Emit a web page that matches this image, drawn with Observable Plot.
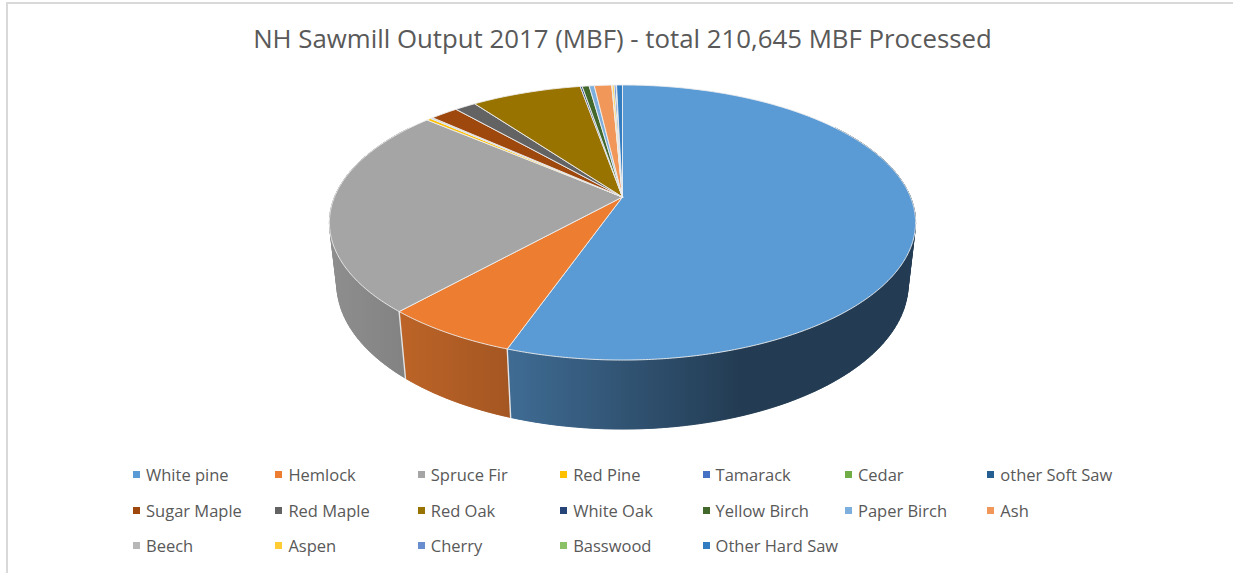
<!DOCTYPE html>
<html>
<head>
<meta charset="utf-8">
<script src="https://cdn.jsdelivr.net/npm/d3@7"></script>
<script src="https://cdn.jsdelivr.net/npm/@observablehq/plot@0.6"></script>
<style>
html,body{margin:0;padding:0;background:#fff;overflow:hidden}
#page{position:relative;width:1233px;height:573px;font-family:"Open Sans",sans-serif;color:#595959}
#frame{position:absolute;left:6px;top:2px;right:0;height:580px;border-left:2px solid #d9d9d9;border-top:2px solid #d9d9d9;box-sizing:border-box}
#title{position:absolute;left:0;top:20px;width:1245px;text-align:center;font-size:25.8px;line-height:36px;white-space:nowrap}
#chart{position:absolute;left:0;top:0}
#legend{position:absolute;left:133px;top:457px;display:grid;grid-template-columns:repeat(7,142.4px);grid-auto-rows:35.4px;font-size:16.5px}
.item{display:flex;align-items:center;white-space:nowrap}
.sw{width:7px;height:7px;margin-right:6px;flex:none}
</style>
</head>
<body>
<div id="page">
  <div id="frame"></div>
  <div id="title"></div>
  <div id="chart"></div>
  <div id="legend"></div>
</div>
<script>
const chartTitle = "NH Sawmill Output 2017 (MBF) - total 210,645 MBF Processed";
const species = ["White pine","Hemlock","Spruce Fir","Red Pine","Tamarack","Cedar","other Soft Saw",
  "Sugar Maple","Red Maple","Red Oak","White Oak","Yellow Birch","Paper Birch","Ash",
  "Beech","Aspen","Cherry","Basswood","Other Hard Saw"];
const output = [116600,13270,51820,630,100,60,170,3880,2950,15310,270,970,710,2420,60,270,270,60,825];
const colors = ["#5b9bd5","#ed7d31","#a5a5a5","#ffc000","#4472c4","#70ad47","#255e91",
  "#9e480e","#636363","#997300","#264478","#43682b","#7cafdd","#f1975a",
  "#b7b7b7","#ffcd33","#698ed0","#8cc168","#327dc2"];

// perspective of the tilted disc: depth gain along the view, depth gain along the thickness, thickness
const tilt = 0.1855, sink = 0.025, thickness = 0.467;
const project = (deg, h) => {
  const a = deg * Math.PI / 180, u = Math.sin(a), v = Math.cos(a);
  const w = 1 + tilt * v + sink * h;
  return {x: u / w, y: (v - thickness * h) / w};
};
const total = d3.sum(output);
let run = 0;
const slices = species.map((name, i) => {
  const a0 = run / total * 360; run += output[i];
  return {name, index: i, fill: colors[i], a0, a1: run / total * 360};
});
const steps = (a0, a1, size) => {
  const n = Math.max(1, Math.ceil((a1 - a0) / size));
  return d3.range(n + 1).map(i => a0 + (a1 - a0) * i / n);
};

// top face
const topFace = slices.flatMap(s => [
  {id: s.name, fill: s.fill, x: 0, y: 0},
  ...steps(s.a0, s.a1, 0.5).map(d => ({id: s.name, fill: s.fill, ...project(d, 0)})),
  {id: s.name, fill: s.fill, x: 0, y: 0}
]);

// side wall: a base band per slice, plus quads that complete the silhouette, all sharing one horizontal gradient per slice
const shade = d3.scaleLinear().domain([-1.01, -0.75, -0.39, 0.41, 1.01]).range([0.86, 0.79, 0.69, 0.39, 0.39]);
const bands = [];
const strips = [];
slices.forEach(s => {
  const lo = Math.max(s.a0, 55), hi = Math.min(s.a1, 305);
  if (hi <= lo) return;
  const fill = `url(#wall${s.index})`;
  const ang = steps(lo, hi, 1.5);
  [...ang.map(d => project(d, 0)), ...ang.slice().reverse().map(d => project(d, 1))]
    .forEach(pt => bands.push({id: s.name, fill, ...pt}));
  d3.pairs(ang).forEach(([p, q], i) => {
    const id = s.name + i, tp = project(p, 0);
    [tp, project(q, 0), project(q, 1), project(p, 1), tp].forEach(pt => strips.push({id, fill, ...pt}));
  });
});

// white seams on the wall where visible slices meet
const seams = slices.filter(s => s.a1 > 90 && s.a1 < 270).flatMap(s => [
  {id: s.name, ...project(s.a1, 0)},
  {id: s.name, ...project(s.a1, 1)}
]);

d3.select("#title").text(chartTitle);

const plot = Plot.plot({
  width: 1233,
  height: 440,
  margin: 0,
  style: {background: "transparent"},
  x: {axis: null, domain: [-1, 1], range: [334, 910]},
  y: {axis: null, domain: [-1, 1], range: [329.3, 63.7]},
  color: {type: "identity"},
  marks: [
    Plot.line(strips, {x: "x", y: "y", z: "id", fill: "fill", stroke: "fill", strokeWidth: 0.6}),
    Plot.line(bands, {x: "x", y: "y", z: "id", fill: "fill", stroke: "fill", strokeWidth: 0.6}),
    Plot.line(seams, {x: "x", y: "y", z: "id", stroke: "#e4e4e4", strokeWidth: 1.4}),
    Plot.line(topFace, {x: "x", y: "y", z: "id", fill: "fill", stroke: "#eeeeee", strokeWidth: 0.9, strokeLinejoin: "round"})
  ]
});

const xScale = plot.scale("x");
const defs = d3.select(plot).insert("defs", ":first-child");
slices.forEach(s => {
  const g = defs.append("linearGradient").attr("id", `wall${s.index}`)
    .attr("gradientUnits", "userSpaceOnUse")
    .attr("x1", xScale.apply(-1.01)).attr("x2", xScale.apply(1.01)).attr("y1", 0).attr("y2", 0);
  const c = d3.rgb(s.fill);
  shade.domain().forEach(d => {
    const k = shade(d);
    g.append("stop").attr("offset", (d + 1.01) / 2.02)
      .attr("stop-color", d3.rgb(c.r * k, c.g * k, c.b * k).formatHex());
  });
});
document.getElementById("chart").appendChild(plot);

const legend = d3.select("#legend").selectAll("div").data(slices).join("div").attr("class", "item");
legend.append("span").attr("class", "sw").style("background", d => d.fill);
legend.append("span").text(d => d.name);
</script>
</body>
</html>
